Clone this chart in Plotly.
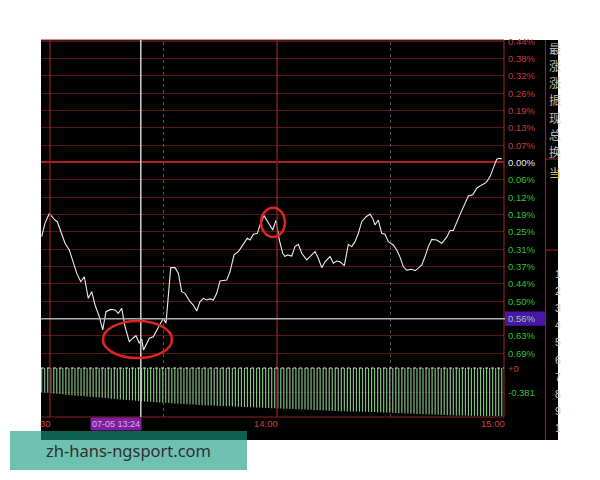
import plotly.graph_objects as go

# ---------------- data ----------------
# intraday price change (%), time in minutes relative to 13:00 (negative = end of morning session)
minutes = [-2.19, -1.32, -0.19, 0.45, 1.32, 1.93, 3.09, 3.97, 5.10, 6.16,
           7.06, 8.12, 9.07, 10.12, 11.02, 11.90, 13.03, 13.93, 14.80, 16.05,
           17.18, 18.05, 18.95, 19.83, 20.96, 21.86, 22.73, 23.61, 24.24, 24.72,
           26.25, 27.31, 28.63, 29.95, 30.66, 31.27, 31.91, 33.04, 33.92, 34.81,
           35.69, 37.01, 37.88, 38.78, 39.65, 40.52, 41.42, 42.29, 43.17, 44.07,
           44.94, 46.71, 47.58, 48.64, 49.78, 50.67, 51.55, 52.15, 52.87, 53.74,
           54.80, 55.51, 56.57, 57.71, 58.87, 59.74, 60.61, 61.51, 62.12, 62.73,
           63.89, 64.76, 65.64, 66.53, 67.86, 68.73, 70.05, 70.92, 71.82, 72.69,
           74.02, 74.89, 75.79, 76.66, 77.80, 78.85, 79.75, 80.62, 81.50, 82.39,
           83.53, 84.59, 85.30, 85.91, 86.78, 87.68, 88.55, 89.43, 90.75, 91.65,
           92.52, 93.39, 94.29, 95.61, 96.48, 97.36, 98.26, 99.13, 100.00, 100.90,
           102.22, 103.54, 104.86, 105.74, 106.61, 107.93, 109.25, 110.57, 111.74, 112.79,
           114.11, 115.25, 116.31, 117.02, 117.63, 118.08, 118.77, 119.40]
pct = [-0.268, -0.219, -0.184, -0.196, -0.208, -0.214, -0.256, -0.292, -0.316, -0.359,
       -0.400, -0.431, -0.413, -0.491, -0.467, -0.515, -0.557, -0.605, -0.539, -0.531,
       -0.533, -0.545, -0.527, -0.593, -0.648, -0.635, -0.626, -0.653, -0.638, -0.678,
       -0.635, -0.630, -0.599, -0.563, -0.581, -0.479, -0.380, -0.380, -0.400, -0.467,
       -0.473, -0.503, -0.515, -0.537, -0.503, -0.491, -0.497, -0.493, -0.497, -0.473,
       -0.428, -0.425, -0.395, -0.334, -0.322, -0.304, -0.286, -0.274, -0.280, -0.259,
       -0.256, -0.226, -0.192, -0.220, -0.244, -0.208, -0.280, -0.328, -0.340, -0.334,
       -0.338, -0.304, -0.296, -0.328, -0.352, -0.340, -0.322, -0.346, -0.380, -0.359,
       -0.340, -0.364, -0.356, -0.359, -0.373, -0.296, -0.304, -0.286, -0.256, -0.214,
       -0.196, -0.187, -0.202, -0.226, -0.208, -0.256, -0.259, -0.286, -0.298, -0.316,
       -0.342, -0.377, -0.389, -0.386, -0.391, -0.382, -0.370, -0.340, -0.304, -0.278,
       -0.280, -0.292, -0.270, -0.246, -0.246, -0.202, -0.160, -0.121, -0.117, -0.093,
       -0.081, -0.073, -0.051, -0.027, -0.003, 0.012, 0.015, 0.013]

# lower indicator panel bars
bar_values = [-0.370, -0.372, -0.375, -0.386, -0.390, -0.394, -0.398, -0.402, -0.406, -0.411,
              -0.415, -0.419, -0.423, -0.427, -0.431, -0.435, -0.439, -0.443, -0.447, -0.451,
              -0.455, -0.459, -0.463, -0.467, -0.471, -0.475, -0.479, -0.483, -0.487, -0.491,
              -0.495, -0.499, -0.503, -0.507, -0.510, -0.513, -0.516, -0.519, -0.522, -0.525,
              -0.528, -0.531, -0.534, -0.537, -0.540, -0.543, -0.546, -0.549, -0.552, -0.555,
              -0.558, -0.561, -0.564, -0.566, -0.568, -0.570, -0.572, -0.574, -0.576, -0.578,
              -0.580, -0.582, -0.584, -0.586, -0.588, -0.590, -0.592, -0.594, -0.596, -0.598,
              -0.600, -0.602, -0.604, -0.606, -0.608, -0.610, -0.612, -0.614, -0.616, -0.618,
              -0.620, -0.622, -0.624, -0.626, -0.628, -0.630, -0.632, -0.634, -0.636, -0.638,
              -0.640, -0.642, -0.644, -0.646, -0.648, -0.650, -0.652, -0.654, -0.656, -0.658,
              -0.660, -0.662, -0.663, -0.664, -0.665, -0.666, -0.667, -0.668, -0.669, -0.670,
              -0.672, -0.674, -0.676, -0.678, -0.680, -0.682, -0.684, -0.686, -0.688, -0.690,
              -0.692, -0.694, -0.696, -0.698, -0.700, -0.702, -0.704, -0.706, -0.708, -0.710,
              -0.712, -0.714, -0.716, -0.718, -0.720, -0.721, -0.722, -0.723, -0.724, -0.725,
              -0.726, -0.727, -0.728, -0.729, -0.730, -0.730, -0.731, -0.731, -0.732, -0.732,
              -0.733, -0.733, -0.733]
bar_start, bar_spacing = -2.2, 0.8
bar_minutes = [bar_start + bar_spacing * i for i in range(len(bar_values))]

grid_step = 0.0627
price_steps = [7, 6, 5, 4, 3, 2, 1, 0, -1, -2, -3, -4, -5, -6, -7, -8, -9, -10, -11]
price_labels = ["0.44%", "0.38%", "0.32%", "0.26%", "0.19%", "0.13%", "0.07%", "0.00%",
                "0.06%", "0.12%", "0.19%", "0.25%", "0.31%", "0.37%", "0.44%", "0.50%",
                "0.56%", "0.63%", "0.69%"]
vol_ticks = [0, -0.381]
vol_labels = ["+0", "-0.381"]

time_ticks = [0, 60, 120]
time_labels = ["30", "14:00", "15:00"]
solid_vlines = [0, 60]
dotted_vlines = [30, 90]

cross_minute = 24
cross_step = -9
cross_time_label = "07-05 13:24"

side_labels = ["最", "涨", "涨", "振", "现", "总", "换"]
side_current = "当"
side_numbers = ["1", "2", "3", "4", "5", "6", "7", "8", "9", "1"]

# highlight ellipses (minutes, pct)
highlights = [dict(x0=14.0, x1=32.25, y0=-0.707, y1=-0.573),
              dict(x0=55.8, x1=62.1, y0=-0.269, y1=-0.164)]

watermark = "zh-hans-ngsport.com"

# ---------------- layout helpers (page pixel -> paper) ----------------
BODY = 8  # default page margin around the plot div
L, R, T, B = 41, 504, 40, 417
W, H = R - L, B - T


def X(p):
    return (p - L) / W


def Y(p):
    return (B - p) / H


RED = "#c83c3c"
GREEN = "#35c035"
GRID = "#5a1616"
DARKRED = "#8b2222"
FONT = "Liberation Sans"

# thin vertical stems for the indicator bars (drawn as line segments from 0 to value)
stem_x, stem_y = [], []
for t, v in zip(bar_minutes, bar_values):
    stem_x += [t, t, None]
    stem_y += [0, v, None]

fig = go.Figure()
fig.add_trace(go.Scatter(x=stem_x, y=stem_y, mode="lines", line=dict(color="#86c386", width=1.15),
                         xaxis="x", yaxis="y2", hoverinfo="skip"))
fig.add_trace(go.Scatter(x=minutes, y=pct, mode="lines", line=dict(color="#ececec", width=1.1),
                         xaxis="x", yaxis="y", hoverinfo="skip"))

grid_levels = [s * grid_step for s in price_steps]

fig.update_layout(
    width=600, height=480,
    margin=dict(l=L - BODY, r=600 - (R - BODY), t=T - BODY, b=480 - (B - BODY), pad=0),
    paper_bgcolor="white", plot_bgcolor="black",
    showlegend=False,
    xaxis=dict(range=[-2.38, 120], showgrid=False, zeroline=False, showticklabels=False,
               ticks="", anchor="y2", showline=False),
    yaxis=dict(domain=[Y(360), 1], range=[-0.7138, 0.4427], tickvals=grid_levels,
               showticklabels=False, ticks="", gridcolor=GRID, gridwidth=1,
               zeroline=True, zerolinecolor="#b02020", zerolinewidth=2, showline=False),
    yaxis2=dict(domain=[0, Y(364)], range=[-0.747, 0.061], tickvals=[-0.381],
                showticklabels=False, ticks="", gridcolor="#3a1010", zeroline=False),
)

shapes = []
# black canvas incl. right info panel and bottom time strip
shapes.append(dict(type="rect", xref="paper", yref="paper", x0=X(41), x1=X(558), y0=Y(440), y1=Y(40),
                   fillcolor="black", line_width=0, layer="below"))
# vertical time grid
for m in solid_vlines:
    shapes.append(dict(type="line", xref="x", yref="paper", x0=m, x1=m, y0=0, y1=1,
                       line=dict(color=DARKRED, width=1.3)))
for m in dotted_vlines:
    shapes.append(dict(type="line", xref="x", yref="paper", x0=m, x1=m, y0=0, y1=1,
                       line=dict(color="#555555", width=1, dash="dot")))
# borders
shapes.append(dict(type="line", xref="paper", yref="paper", x0=0, x1=1, y0=1, y1=1, line=dict(color=DARKRED, width=1)))
shapes.append(dict(type="line", xref="paper", yref="paper", x0=1, x1=1, y0=0, y1=1, line=dict(color=DARKRED, width=1.2)))
shapes.append(dict(type="line", xref="paper", yref="paper", x0=0, x1=1, y0=0, y1=0, line=dict(color=DARKRED, width=1.2)))
# indicator zero dotted line
shapes.append(dict(type="line", xref="paper", yref="y2", x0=0, x1=1, y0=0, y1=0,
                   line=dict(color="#dcdcb4", width=1, dash="dot")))
# crosshair
cross_level = cross_step * grid_step
shapes.append(dict(type="line", xref="paper", yref="y", x0=0, x1=X(505), y0=cross_level, y1=cross_level,
                   line=dict(color="#a8b0b0", width=1.5)))
shapes.append(dict(type="line", xref="x", yref="paper", x0=cross_minute, x1=cross_minute, y0=0, y1=1,
                   line=dict(color="#d0d0d0", width=1.5)))
shapes.append(dict(type="rect", xref="paper", yref="y", x0=X(505), x1=X(545),
                   y0=cross_level - 0.026, y1=cross_level + 0.026, fillcolor="#4a16a8", line_width=0))
# right info panel lines
shapes.append(dict(type="line", xref="paper", yref="paper", x0=X(545.5), x1=X(545.5), y0=Y(440), y1=Y(40),
                   line=dict(color=DARKRED, width=1.2)))
shapes.append(dict(type="line", xref="paper", yref="paper", x0=X(545.5), x1=X(558), y0=Y(159), y1=Y(159),
                   line=dict(color=DARKRED, width=1.2)))
shapes.append(dict(type="line", xref="paper", yref="paper", x0=X(545.5), x1=X(558), y0=Y(250), y1=Y(250),
                   line=dict(color=DARKRED, width=1.2)))
# highlight ellipses
for h in highlights:
    shapes.append(dict(type="circle", xref="x", yref="y", line=dict(color="#e02424", width=2.5), **h))
# watermark band
shapes.append(dict(type="rect", xref="paper", yref="paper", x0=X(10), x1=X(247), y0=Y(470), y1=Y(431),
                   fillcolor="rgba(22,156,129,0.62)", line_width=0, layer="above"))
fig.update_layout(shapes=shapes)

ann = []
for lvl, lab, s in zip(grid_levels, price_labels, price_steps):
    if s == cross_step:
        col = "#8fd0a0"
    elif s > 0:
        col = RED
    elif s == 0:
        col = "#e8e8e8"
    else:
        col = GREEN
    ann.append(dict(xref="paper", yref="y", x=X(506), y=lvl, text=lab, showarrow=False,
                    xanchor="left", yanchor="middle", font=dict(family=FONT, size=9.5, color=col)))
for v, lab in zip(vol_ticks, vol_labels):
    ann.append(dict(xref="paper", yref="y2", x=X(506), y=v, text=lab, showarrow=False,
                    xanchor="left", yanchor="middle",
                    font=dict(family=FONT, size=9.5, color=RED if v >= 0 else GREEN)))
for m, lab in zip(time_ticks, time_labels):
    ann.append(dict(xref="x", yref="paper", x=m, y=Y(423.5), text=lab, showarrow=False,
                    xanchor="right", yanchor="middle", xshift=3,
                    font=dict(family=FONT, size=9.5, color="#c84040")))
ann.append(dict(xref="x", yref="paper", x=cross_minute, y=Y(424), text=cross_time_label, showarrow=False,
                xanchor="right", yanchor="middle", bgcolor="#7d1fa0", borderpad=1, xshift=1,
                font=dict(family=FONT, size=9, color="#e6a6e6")))
for i, ch in enumerate(side_labels):
    ann.append(dict(xref="paper", yref="paper", x=X(546.5), y=Y(48 + 17.3 * i), text=ch, showarrow=False,
                    xanchor="left", yanchor="middle",
                    font=dict(family="Noto Sans CJK SC", size=12, color="#bdbdbd")))
ann.append(dict(xref="paper", yref="paper", x=X(546.5), y=Y(173), text=side_current, showarrow=False,
                xanchor="left", yanchor="middle", font=dict(family="Noto Sans CJK SC", size=12, color="#d8c050")))
for i, n in enumerate(side_numbers):
    ann.append(dict(xref="paper", yref="paper", x=X(552.5), y=Y(274 + 17.1 * i), text=n, showarrow=False,
                    xanchor="left", yanchor="middle", font=dict(family=FONT, size=10.5, color="#c8c8c8")))
ann.append(dict(xref="paper", yref="paper", x=X(128), y=Y(450.5), text=watermark, showarrow=False,
                xanchor="center", yanchor="middle", font=dict(family="Noto Sans", size=16.5, color="#2f2f2f")))
fig.update_layout(annotations=ann)

fig.write_html("out.html")
